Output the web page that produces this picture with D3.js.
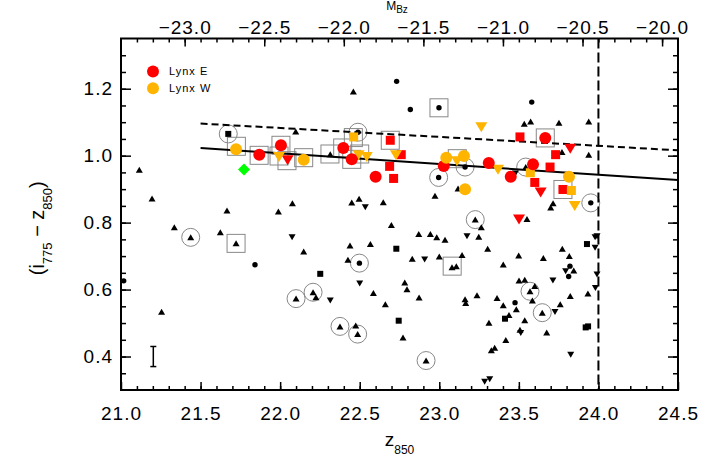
<!DOCTYPE html>
<meta charset="utf-8">
<script src="https://d3js.org/d3.v7.min.js"></script>
<style>
  body { margin: 0; background: #fff; }
  text { font-family: "Liberation Sans", Arial, sans-serif; }
</style>
<div id="chart"></div>
<script>

// ---- data (z850, i775-z850) ----
var blackTri = [
  [21.115,0.958],[21.195,0.872],[21.666,0.836],[21.989,0.833],[22.077,0.858],[22.450,0.860],
  [22.496,0.871],[22.648,0.861],[22.460,1.192],[22.098,1.072],[22.315,1.004],
  [23.534,1.095],[23.574,1.102],[23.752,1.098],[23.939,1.102],[23.771,1.011],[23.939,1.003],
  [23.118,0.902],[22.973,0.880],[23.715,0.858],[23.700,0.845],[23.551,0.811],[23.543,0.966],[23.226,0.809],
  [21.335,0.786],[21.438,0.756],[21.624,0.771],[21.723,0.738],[21.255,0.534],[22.148,0.714],
  [22.439,0.732],[22.567,0.736],[22.699,0.793],[22.426,0.689],[22.586,0.590],[22.661,0.556],
  [22.100,0.573],[22.207,0.592],[22.225,0.577],[22.376,0.490],[22.475,0.493],[22.487,0.467],
  [23.264,0.786],[22.871,0.766],[22.944,0.766],[22.984,0.756],[23.036,0.749],[23.248,0.758],
  [23.304,0.722],[22.830,0.692],[23.000,0.699],[23.080,0.667],[23.107,0.670],[23.143,0.703],
  [23.402,0.675],[23.499,0.702],[23.654,0.694],[23.773,0.722],[23.817,0.700],[23.845,0.657],
  [23.934,0.588],[23.823,0.581],[23.760,0.556],[23.647,0.531],[23.501,0.627],[23.537,0.629],
  [23.600,0.611],[23.570,0.595],[23.585,0.567],[22.783,0.621],[22.797,0.601],[22.873,0.576],
  [23.162,0.571],[23.166,0.560],[23.237,0.583],[23.363,0.575],[23.402,0.553],[23.484,0.541],
  [23.438,0.524],[23.537,0.508],[23.312,0.501],[23.507,0.480],[23.675,0.472],[23.418,0.449],
  [23.348,0.426],[23.327,0.419],[22.917,0.388],[22.772,0.457]
];
var blackTriDown = [
  [22.535,0.846],[23.478,0.947],[22.075,0.756],[22.500,0.618],[22.315,0.567],[22.908,0.690],
  [23.174,0.759],[23.794,0.655],[23.979,0.756],[23.991,0.759],[23.979,0.725],[23.991,0.645],
  [23.981,0.605],[23.714,0.627],[23.727,0.533],[23.512,0.470],[23.826,0.405],[23.285,0.325],[23.317,0.332]
];
var blackDot = [
  [22.732,1.222],[22.489,1.070],[22.818,1.138],[22.998,1.143],[23.581,1.160],[23.162,0.966],
  [22.996,0.935],[23.952,0.859],[21.842,0.674],[21.017,0.626],[22.498,0.679],[23.821,0.670],
  [23.813,0.639],[23.476,0.561]
];
var blackSquare = [
  [21.674,1.065],[22.252,0.647],[22.730,0.722],[22.745,0.507],[23.928,0.736],[23.413,0.513],
  [23.920,0.487],[23.935,0.490]
];
var redCircle = [
  [21.869,1.003],[22.005,1.031],[22.397,1.023],[22.450,0.989],[22.600,0.937],[23.666,1.053],
  [23.028,0.969],[23.311,0.978],[23.449,0.937],[23.589,0.974]
];
var orangeCircle = [
  [21.723,1.019],[22.148,0.988],[23.044,0.994],[23.155,0.999],[23.815,0.937],[23.162,0.900]
];
var redSquare = [
  [22.692,1.046],[22.688,0.968],[22.713,0.932],[22.761,1.003],[23.507,1.056],[23.731,1.003],
  [23.696,0.966],[23.600,0.920],[23.777,0.899]
];
var orangeSquare = [[22.462,1.056],[23.572,0.949],[23.830,0.896]];
var redTriDown = [[22.047,0.986],[23.823,1.021],[23.637,0.890],[23.501,0.809]];
var orangeTriDown = [
  [21.993,0.996],[22.493,1.001],[22.544,0.996],[22.728,1.001],[23.264,1.085],[23.111,0.983],
  [23.369,0.958],[23.851,0.850]
];
var greenDiamond = [[21.773,0.959]];

// open grey circles and boxes drawn around some objects
var circled = [
  [21.674,1.065],[22.489,1.070],[23.162,0.966],[22.996,0.935],[23.543,0.966],[23.952,0.859],
  [23.226,0.809],[21.438,0.756],[22.498,0.679],[22.100,0.573],[22.207,0.592],[22.376,0.490],
  [22.487,0.467],[23.570,0.595],[23.647,0.531],[22.917,0.388]
];
var boxed = [
  [21.725,1.028],[21.868,1.001],[22.005,1.031],[21.993,0.999],[22.043,0.985],[22.148,0.994],
  [22.313,1.005],[22.393,1.023],[22.450,0.989],[22.500,1.005],[22.460,1.054],[22.692,1.046],
  [22.998,1.143],[23.666,1.053],[23.113,0.991],[23.777,0.899],[21.723,0.738],[23.081,0.670]
];

// fitted relations, magnitude limit and typical error
var solidFit = [[21.5,1.023],[24.5,0.927]];
var dashedFit = [[21.5,1.096],[24.5,1.016]];
var magLimit = 24.0;
var errBar = {z: 21.203, c: 0.40, err: 0.03};

var zMajor = [21.0,21.5,22.0,22.5,23.0,23.5,24.0,24.5];
var mMajor = [-23.0,-22.5,-22.0,-21.5,-21.0,-20.5,-20.0];
var cMajor = [0.4,0.6,0.8,1.0,1.2];
var legendItems = [["Lynx E","#ff0000"],["Lynx W","#ffb400"]];
var distMod = 44.4;   // z850 - M_Bz

var W = 717, H = 468;
var pL = 121, pR = 678, pT = 38.5, pB = 390;

var svg = d3.select("#chart").append("svg")
    .attr("width", W)
    .attr("height", H);
svg.append("rect").attr("width", W).attr("height", H).attr("fill", "#fff");

var x = d3.scaleLinear().domain([21, 24.5]).range([pL, pR]);
var xTop = d3.scaleLinear().domain([21 - distMod, 24.5 - distMod]).range([pL, pR]);
var y = d3.scaleLinear().domain([0.3, 1.35]).range([pB, pT]);

var fmt = d3.format(".1f");
function minusFmt(d) { return fmt(d).replace("-", "\u2212"); }

// axes: major (labelled) and minor ticks, all pointing inwards
function styleAxis(g) {
  g.select(".domain").remove();
  g.selectAll("line").attr("stroke", "#000").attr("stroke-width", 1.5);
  g.selectAll("text").attr("fill", "#000").style("font-size", "19px").style("letter-spacing", "1px");
}

svg.append("g").attr("transform", "translate(0," + pB + ")")
  .call(d3.axisBottom(x).tickValues(d3.range(21.1, 24.45, 0.1)).tickSize(-4).tickFormat(""))
  .call(styleAxis);
svg.append("g").attr("transform", "translate(0," + pB + ")")
  .call(d3.axisBottom(x).tickValues(zMajor).tickSize(-8).tickPadding(17).tickFormat(fmt))
  .call(styleAxis);

svg.append("g").attr("transform", "translate(0," + pT + ")")
  .call(d3.axisTop(xTop).tickValues(d3.range(-23.3, -19.95, 0.1)).tickSize(-4).tickFormat(""))
  .call(styleAxis);
svg.append("g").attr("transform", "translate(0," + pT + ")")
  .call(d3.axisTop(xTop).tickValues(mMajor).tickSize(-8).tickPadding(5).tickFormat(minusFmt))
  .call(styleAxis);

svg.append("g").attr("transform", "translate(" + pL + ",0)")
  .call(d3.axisLeft(y).tickValues(d3.range(0.35, 1.34, 0.05)).tickSize(-5).tickFormat(""))
  .call(styleAxis);
svg.append("g").attr("transform", "translate(" + pL + ",0)")
  .call(d3.axisLeft(y).tickValues(cMajor).tickSize(-10).tickPadding(8).tickFormat(fmt))
  .call(styleAxis);

svg.append("g").attr("transform", "translate(" + pR + ",0)")
  .call(d3.axisRight(y).tickValues(d3.range(0.35, 1.34, 0.05)).tickSize(-5).tickFormat(""))
  .call(styleAxis);
svg.append("g").attr("transform", "translate(" + pR + ",0)")
  .call(d3.axisRight(y).tickValues(cMajor).tickSize(-10).tickFormat(""))
  .call(styleAxis);

// frame
svg.append("rect")
  .attr("x", pL).attr("y", pT)
  .attr("width", pR - pL).attr("height", pB - pT)
  .attr("fill", "none").attr("stroke", "#000").attr("stroke-width", 2);

// axis titles
var xt = svg.append("text").attr("x", (pL + pR) / 2).attr("y", 446)
  .attr("text-anchor", "middle").style("font-size", "19px");
xt.append("tspan").text("z");
xt.append("tspan").attr("dy", 8).style("font-size", "12px").text("850");

var mt = svg.append("text").attr("x", 397).attr("y", 10)
  .attr("text-anchor", "middle").style("font-size", "12px");
mt.append("tspan").text("M");
mt.append("tspan").attr("dy", 3).style("font-size", "10px").text("Bz");

var yt = svg.append("text")
  .attr("transform", "translate(44," + ((pT + pB) / 2 + 14) + ") rotate(-90)")
  .attr("text-anchor", "middle").style("font-size", "20px");
yt.append("tspan").text("(i");
yt.append("tspan").attr("dy", 8).style("font-size", "13px").text("775");
yt.append("tspan").attr("dy", -8).text(" \u2212 z");
yt.append("tspan").attr("dy", 8).style("font-size", "13px").text("850");
yt.append("tspan").attr("dy", -8).text(")");

var plot = svg.append("g");

// grey circles / boxes
plot.append("g").selectAll("circle").data(circled).join("circle")
  .attr("cx", function(d) { return x(d[0]); })
  .attr("cy", function(d) { return y(d[1]); })
  .attr("r", 9).attr("fill", "none").attr("stroke", "#888").attr("stroke-width", 1);
plot.append("g").selectAll("rect").data(boxed).join("rect")
  .attr("x", function(d) { return x(d[0]) - 9; })
  .attr("y", function(d) { return y(d[1]) - 9; })
  .attr("width", 18).attr("height", 18)
  .attr("fill", "none").attr("stroke", "#888").attr("stroke-width", 1);

function triPath(w, h, down) {
  var s = down ? -1 : 1;
  return "M" + (-w / 2) + "," + (s * h / 2) + "L" + (w / 2) + "," + (s * h / 2) + "L0," + (-s * h / 2) + "Z";
}
function drawPath(data, path, color) {
  plot.append("g").selectAll("path").data(data).join("path")
    .attr("transform", function(d) { return "translate(" + x(d[0]) + "," + y(d[1]) + ")"; })
    .attr("d", path).attr("fill", color);
}
function drawDots(data, r, color) {
  plot.append("g").selectAll("circle").data(data).join("circle")
    .attr("cx", function(d) { return x(d[0]); })
    .attr("cy", function(d) { return y(d[1]); })
    .attr("r", r).attr("fill", color);
}
function drawSquares(data, s, color) {
  plot.append("g").selectAll("rect").data(data).join("rect")
    .attr("x", function(d) { return x(d[0]) - s / 2; })
    .attr("y", function(d) { return y(d[1]) - s / 2; })
    .attr("width", s).attr("height", s).attr("fill", color);
}

// comparison sample (black)
drawPath(blackTri, triPath(7, 6, false), "#000");
drawPath(blackTriDown, triPath(7, 6, true), "#000");
drawDots(blackDot, 2.7, "#000");
drawSquares(blackSquare, 6, "#000");

// limit and fits
var line = d3.line().x(function(d) { return x(d[0]); }).y(function(d) { return y(d[1]); });
plot.append("line")
  .attr("x1", x(magLimit)).attr("x2", x(magLimit))
  .attr("y1", pT).attr("y2", pB)
  .attr("stroke", "#000").attr("stroke-width", 2).attr("stroke-dasharray", "10,4");
plot.append("path").datum(solidFit).attr("d", line)
  .attr("fill", "none").attr("stroke", "#000").attr("stroke-width", 2);
plot.append("path").datum(dashedFit).attr("d", line)
  .attr("fill", "none").attr("stroke", "#000").attr("stroke-width", 2).attr("stroke-dasharray", "7,4");

// error bar
var eb = plot.append("g").attr("stroke", "#000").attr("stroke-width", 1.5);
eb.append("line").attr("x1", x(errBar.z)).attr("x2", x(errBar.z))
  .attr("y1", y(errBar.c - errBar.err)).attr("y2", y(errBar.c + errBar.err));
[errBar.c - errBar.err, errBar.c + errBar.err].forEach(function(v) {
  eb.append("line").attr("x1", x(errBar.z) - 3).attr("x2", x(errBar.z) + 3)
    .attr("y1", y(v)).attr("y2", y(v));
});

// cluster members
drawSquares(redSquare, 9, "#ff0000");
drawSquares(orangeSquare, 9, "#ffb400");
drawPath(redTriDown, triPath(12, 10, true), "#ff0000");
drawPath(orangeTriDown, triPath(12, 10, true), "#ffb400");
drawDots(redCircle, 6, "#ff0000");
drawDots(orangeCircle, 6, "#ffb400");
drawPath(greenDiamond, "M0,-6L6,0L0,6L-6,0Z", "#00ff00");

// legend
var lg = svg.append("g");
legendItems.forEach(function(d, i) {
  lg.append("circle").attr("cx", 153).attr("cy", 71.5 + i * 16.7).attr("r", 6).attr("fill", d[1]);
  lg.append("text").attr("x", 169).attr("y", 75 + i * 16.7)
    .style("font-size", "11px").style("letter-spacing", "1px").text(d[0]);
});

</script>
